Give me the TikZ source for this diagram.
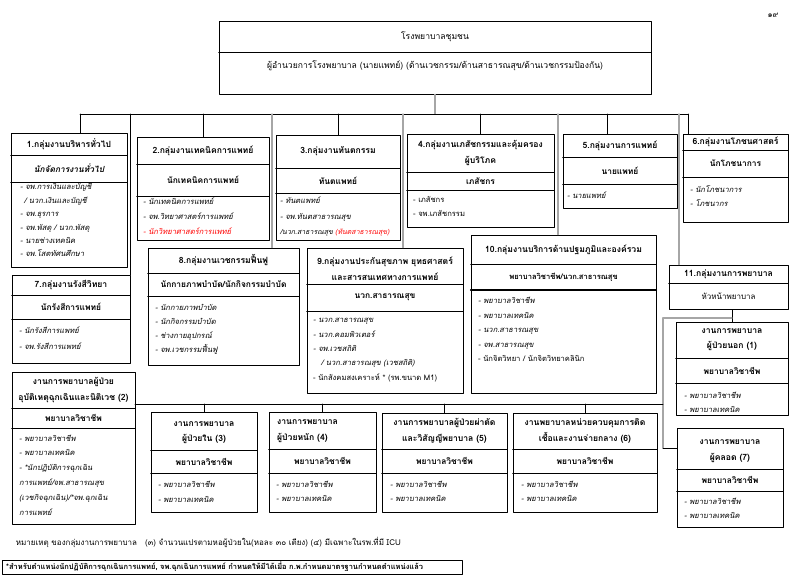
\documentclass[tikz,border=0pt]{standalone}
\usepackage{fontspec}
\setmainfont[Script=Thai]{Loma}
\usetikzlibrary{fit}
\def\fhd{\fontsize{8.6}{15.5}\selectfont}
\def\fsub{\fontsize{8.4}{14}\selectfont}
\def\fitem{\fontsize{7.6}{14}\selectfont}
\tikzset{
	grp/.style={draw, line width=0.8pt, inner sep=0pt},
	hd/.style={font=\fhd\bfseries, align=center, inner sep=0pt},
	sub/.style={font=\fsub\bfseries, inner sep=0pt},
	item/.style={anchor=base west, inner sep=0pt, font=\fitem\itshape},
	bline/.style={line width=0.7pt},
	gline/.style={gray!70, line width=1.2pt}
}
% กรอบ: ชื่อ, x1, y1, x2, y2
\newcommand{\grp}[5]{\node[grp, fit={(#2,#3) (#4,#5)}] (#1) {};}
\newcommand{\cut}[3][0.7pt]{\draw[line width=#1] (#2.west |- 0,#3) -- (#2.east |- 0,#3);}
% รายการ: [ระยะบรรทัด] ชื่อ, x, y, {รายการ}
\newcommand{\items}[5][14]{\foreach \t [count=\i] in {#5}
	\node[item] (#2-\i) at (#3,{#4+3+(\i-1)*#1}) {\t};}
\begin{document}
\fontsize{8}{14}\selectfont
\begin{tikzpicture}[x=1pt, y=-1pt, line join=round, line cap=round]
	\useasboundingbox (0,0) rectangle (801,585);
	\node (pg) at (773,15) {๑๙};
	% ผู้อำนวยการ
	\grp{top}{219}{21}{651}{94} \cut{top}{52}
	\node (topa) at (435,37) {\fontsize{8.6}{14}\selectfont โรงพยาบาลชุมชน};
	\node (topb) at (435,66) {\fontsize{8.6}{14}\selectfont ผู้อำนวยการโรงพยาบาล (นายแพทย์) (ด้านเวชกรรม/ด้านสาธารณสุข/ด้านเวชกรรมป้องกัน)};
	% กลุ่มงาน 1-6
	\grp{g1}{11}{133}{127}{267} \cut{g1}{155} \cut{g1}{182}
	\node[hd] (g1h) at (69,144) {1.กลุ่มงานบริหารทั่วไป};
	\node[sub] (g1s) at (69,168.5) {\itshape นักจัดการงานทั่วไป};
	\items[13.4]{g1i}{20}{187}{- จพ.การเงินและบัญชี, \hspace*{4pt}/ นวก.เงินและบัญชี, - จพ.ธุรการ, - จพ.พัสดุ / นวก.พัสดุ, - นายช่างเทคนิค, - จพ.โสตทัศนศึกษา}
	\grp{g2}{137}{137}{269}{240} \cut{g2}{164} \cut{g2}{196}
	\node[hd] (g2h) at (203,150.5) {2.กลุ่มงานเทคนิคการแพทย์};
	\node[sub] (g2s) at (203,180) {นักเทคนิคการแพทย์};
	\items[15]{g2i}{143}{202}{- นักเทคนิคการแพทย์, - จพ.วิทยาศาสตร์การแพทย์, \color{red}- นักวิทยาศาสตร์การแพทย์}
	\grp{g3}{276}{135}{400}{240} \cut{g3}{168} \cut{g3}{193}
	\node[hd] (g3h) at (338,151.5) {3.กลุ่มงานทันตกรรม};
	\node[sub] (g3s) at (338,180.5) {ทันตแพทย์};
	\items[15.5]{g3i}{280}{201}{- ทันตแพทย์, - จพ.ทันตสาธารณสุข, \fontsize{7}{14}\selectfont/นวก.สาธารณสุข {\color{red}(ทันตสาธารณสุข)}}
	\grp{g4}{407}{134}{554}{227} \cut{g4}{172} \cut{g4}{190}
	\node[hd] (g4h) at (480.5,153) {4.กลุ่มงานเภสัชกรรมและคุ้มครอง\\ผู้บริโภค};
	\node[sub] (g4s) at (480.5,181) {เภสัชกร};
	\items{g4i}{413}{200}{\upshape - เภสัชกร, \upshape - จพ.เภสัชกรรม}
	\grp{g5}{563}{134}{677}{208} \cut{g5}{157} \cut{g5}{184}
	\node[hd] (g5h) at (620,145.5) {5.กลุ่มงานการแพทย์};
	\node[sub] (g5s) at (620,170.5) {นายแพทย์};
	\items{g5i}{567}{196}{- นายแพทย์}
	\grp{g6}{683}{134}{788}{222} \cut{g6}{150} \cut{g6}{177}
	\node[hd] (g6h) at (735.5,142) {6.กลุ่มงานโภชนศาสตร์};
	\node[sub] (g6s) at (735.5,163.5) {นักโภชนาการ};
	\items{g6i}{690}{190}{- นักโภชนาการ, - โภชนากร}
	% กลุ่มงาน 7-11
	\grp{g7}{12}{275}{130}{363} \cut{g7}{295} \cut{g7}{319}
	\node[hd] (g7h) at (71,285) {7.กลุ่มงานรังสีวิทยา};
	\node[sub] (g7s) at (71,307) {นักรังสีการแพทย์};
	\items[16]{g7i}{19}{331}{- นักรังสีการแพทย์, - จพ.รังสีการแพทย์}
	\grp{g8}{148}{248}{299}{365} \cut{g8}{273} \cut{g8}{296}
	\node[hd] (g8h) at (223.5,260.5) {8.กลุ่มงานเวชกรรมฟื้นฟู};
	\node[sub] (g8s) at (223.5,284.5) {นักกายภาพบำบัด/นักกิจกรรมบำบัด};
	\items{g8i}{155}{308}{- นักกายภาพบำบัด, - นักกิจกรรมบำบัด, - ช่างกายอุปกรณ์, - จพ.เวชกรรมฟื้นฟู}
	\grp{g9}{307}{248}{463}{393} \cut{g9}{284} \cut{g9}{311}
	\node[hd] (g9h) at (385,268.5) {9.กลุ่มงานประกันสุขภาพ ยุทธศาสตร์\\และสารสนเทศทางการแพทย์};
	\node[sub] (g9s) at (385,297.5) {นวก.สาธารณสุข};
	\items[14.3]{g9i}{313}{320}{- นวก.สาธารณสุข, - นวก.คอมพิวเตอร์, - จพ.เวชสถิติ, \hspace*{8pt}/ นวก.สาธารณสุข (เวชสถิติ), \upshape - นักสังคมสงเคราะห์ * (รพ.ขนาด M1)}
	\grp{g10}{471}{235}{656}{393} \cut{g10}{264} \cut[1.4pt]{g10}{290}
	\node[hd] (g10h) at (563.5,249.5) {10.กลุ่มงานบริการด้านปฐมภูมิและองค์รวม};
	\node[sub, font=\fitem\bfseries] (g10s) at (563.5,277) {พยาบาลวิชาชีพ/นวก.สาธารณสุข};
	\items[14.5]{g10i}{478}{301}{- พยาบาลวิชาชีพ, - พยาบาลเทคนิค, - นวก.สาธารณสุข, - จพ.สาธารณสุข, \upshape - นักจิตวิทยา / นักจิตวิทยาคลินิก}
	\grp{g11}{669}{265}{788}{309} \cut{g11}{283}
	\node[hd] (g11h) at (728.5,274) {11.กลุ่มงานการพยาบาล};
	\node (g11s) at (728.5,296) {หัวหน้าพยาบาล};
	% งานการพยาบาล (1)-(7)
	\grp{n1}{676}{322}{788}{415} \cut{n1}{358} \cut{n1}{383}
	\node[hd] (n1h) at (732,339.5) {งานการพยาบาล\\ผู้ป่วยนอก (1)};
	\node[sub] (n1s) at (732,370.5) {พยาบาลวิชาชีพ};
	\items{n1i}{684}{396}{- พยาบาลวิชาชีพ, - พยาบาลเทคนิค}
	\grp{n2}{12}{372}{135}{524} \cut{n2}{408} \cut{n2}{428}
	\node[hd] (n2h) at (73.5,390) {งานการพยาบาลผู้ป่วย\\อุบัติเหตุฉุกเฉินและนิติเวช (2)};
	\node[sub] (n2s) at (73.5,418) {พยาบาลวิชาชีพ};
	\items[14.8]{n2i}{19}{438}{- พยาบาลวิชาชีพ, - พยาบาลเทคนิค, - *นักปฏิบัติการฉุกเฉิน, การแพทย์/จพ.สาธารณสุข, (เวชกิจฉุกเฉิน)/*จพ.ฉุกเฉิน, การแพทย์}
	\grp{n3}{151}{412}{257}{512} \cut{n3}{450} \cut{n3}{473}
	\node[hd] (n3h) at (204,432.5) {งานการพยาบาล\\ผู้ป่วยใน (3)};
	\node[sub] (n3s) at (204,461.5) {พยาบาลวิชาชีพ};
	\items[15.5]{n3i}{158}{484}{- พยาบาลวิชาชีพ, - พยาบาลเทคนิค}
	\grp{n4}{269}{412}{376}{512} \cut{n4}{449} \cut{n4}{473}
	\node[hd, anchor=west, align=left] (n4h) at (277,431) {งานการพยาบาล\\ผู้ป่วยหนัก (4)};
	\node[sub] (n4s) at (322.5,461) {พยาบาลวิชาชีพ};
	\items[14.5]{n4i}{276}{484}{- พยาบาลวิชาชีพ, - พยาบาลเทคนิค}
	\grp{n5}{382}{413}{507}{512} \cut{n5}{449} \cut{n5}{473}
	\node[hd] (n5h) at (444.5,431) {งานการพยาบาลผู้ป่วยผ่าตัด\\และวิสัญญีพยาบาล (5)};
	\node[sub] (n5s) at (444.5,461) {พยาบาลวิชาชีพ};
	\items[14.5]{n5i}{390}{484}{- พยาบาลวิชาชีพ, - พยาบาลเทคนิค}
	\grp{n6}{513}{413}{657}{512} \cut{n6}{449} \cut{n6}{473}
	\node[hd] (n6h) at (585,431) {งานพยาบาลหน่วยควบคุมการติด\\เชื้อและงานจ่ายกลาง (6)};
	\node[sub] (n6s) at (585,461) {พยาบาลวิชาชีพ};
	\items[14.5]{n6i}{521}{484}{- พยาบาลวิชาชีพ, - พยาบาลเทคนิค}
	\grp{n7}{677}{428}{783}{527} \cut{n7}{469} \cut{n7}{491}
	\node[hd] (n7h) at (730,451) {งานการพยาบาล\\ผู้คลอด (7)};
	\node[sub] (n7s) at (730,480) {พยาบาลวิชาชีพ};
	\items{n7i}{684}{501}{- พยาบาลวิชาชีพ, - พยาบาลเทคนิค}
	% เส้นเชื่อม
	\coordinate (busL) at (80,114); \coordinate (busR) at (688,114);
	\coordinate (b5) at (607,114); \coordinate (b8) at (272,114);
	\coordinate (b9) at (403,114); \coordinate (b10) at (558,114);
	\coordinate (b11) at (679,114);
	\draw[gline] (top.south) -- (top.south |- busL);
	\draw[bline] (busL) -- (busR);
	\draw[bline] (busL) -- (busL |- g1.north);
	\draw[bline] (g7.north east |- busL) -- (g7.north east);
	\foreach \g in {g2,g3,g4} \draw[bline] (\g.north |- busL) -- (\g.north);
	\draw[bline] (b5) -- (b5 |- g5.north);
	\draw[bline] (busR) -- (busR |- g6.north);
	\foreach \b/\g in {b8/g8,b9/g9,b10/g10,b11/g11} \draw[gline] (\b) -- (\b |- \g.north);
	\coordinate (nb) at (663,318); \coordinate (k7) at (663,448);
	\coordinate (nL) at (135,404);
	\draw[bline] (n1.north |- g11.south) -- (n1.north);
	\draw[gline] (n1.north |- nb) -- (nb) -- (k7);
	\draw[bline] (k7) -- (k7 -| n7.west);
	\draw[bline] (nL) -- (nL -| nb);
	\foreach \n in {n3,n4,n5,n6} \draw[bline] (\n.north |- nL) -- (\n.north);
	% หมายเหตุ
	\node[anchor=west] (note) at (13,542) {หมายเหตุ ของกลุ่มงานการพยาบาล\quad (๓) จำนวนแปรตามหอผู้ป่วยใน(หอละ ๓๐ เตียง) (๔) มีเฉพาะในรพ.ที่มี ICU};
	\grp{foot}{2}{560}{462}{574}
	\node[anchor=west, font=\fontsize{7.5}{14}\selectfont\bfseries, inner sep=0pt] (foott) at (6,567) {*สำหรับตำแหน่งนักปฏิบัติการฉุกเฉินการแพทย์, จพ.ฉุกเฉินการแพทย์ กำหนดให้มีได้เมื่อ ก.พ.กำหนดมาตรฐานกำหนดตำแหน่งแล้ว};
\end{tikzpicture}
\end{document}
